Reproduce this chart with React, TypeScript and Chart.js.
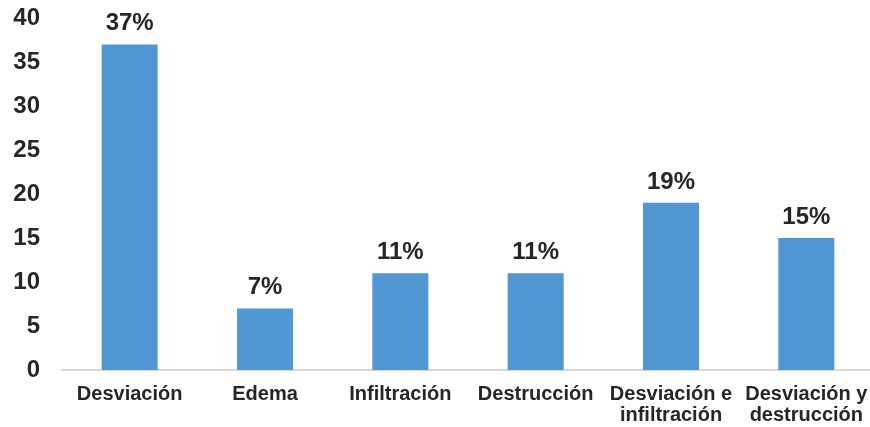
import React, { useEffect, useRef } from "react";
import { Chart, registerables } from "chart.js";

Chart.register(...registerables);

const categories: (string | string[])[] = [
  "Desviación",
  "Edema",
  "Infiltración",
  "Destrucción",
  ["Desviación e", "infiltración"],
  ["Desviación y", "destrucción"],
];
const values = [37, 7, 11, 11, 19, 15];
const valueLabels = ["37%", "7%", "11%", "11%", "19%", "15%"];

const FONT = "'Liberation Sans', Arial, sans-serif";

const dataLabelPlugin = {
  id: "dataLabels",
  afterDatasetsDraw(chart: any) {
    const ctx = chart.ctx;
    const meta = chart.getDatasetMeta(0);
    ctx.save();
    ctx.font = `bold 24px ${FONT}`;
    ctx.fillStyle = "#262626";
    ctx.textAlign = "center";
    ctx.textBaseline = "alphabetic";
    meta.data.forEach((bar: any, i: number) => {
      ctx.fillText(valueLabels[i], bar.x, bar.y - 14);
    });
    ctx.restore();
  },
};

export default function App() {
  const ref = useRef<HTMLCanvasElement>(null);
  useEffect(() => {
    document.body.style.margin = "0";
    const chart = new Chart(ref.current!, {
      type: "bar",
      data: {
        labels: categories,
        datasets: [
          {
            data: values,
            backgroundColor: "#5097D3",
            barPercentage: 0.414,
            categoryPercentage: 1,
          },
        ],
      },
      options: {
        animation: false,
        responsive: false,
        maintainAspectRatio: false,
        layout: { padding: 0 },
        plugins: { legend: { display: false }, tooltip: { enabled: false } },
        scales: {
          x: {
            grid: { display: false, drawTicks: false },
            border: { display: true, color: "#d9d9d9", width: 2 },
            ticks: {
              color: "#262626",
              font: { family: FONT, weight: "bold", size: 20, lineHeight: 1.05 },
              maxRotation: 0,
              autoSkip: false,
              padding: 14,
            },
            afterFit: (scale: any) => {
              scale.height = 57;
              scale.paddingLeft = 0;
              scale.paddingRight = 0;
            },
          },
          y: {
            min: 0,
            max: 40,
            grid: { display: false, drawTicks: false },
            border: { display: false },
            ticks: {
              stepSize: 5,
              color: "#262626",
              font: { family: FONT, weight: "bold", size: 24 },
              padding: 22,
            },
            afterFit: (scale: any) => {
              scale.width = 62;
              scale.paddingTop = 18;
              scale.paddingBottom = 0;
            },
          },
        },
      },
      plugins: [dataLabelPlugin],
    });
    return () => chart.destroy();
  }, []);
  return (
    <div style={{ width: 870, height: 427, overflow: "hidden" }}>
      <canvas ref={ref} width={874} height={427} style={{ display: "block" }} />
    </div>
  );
}
